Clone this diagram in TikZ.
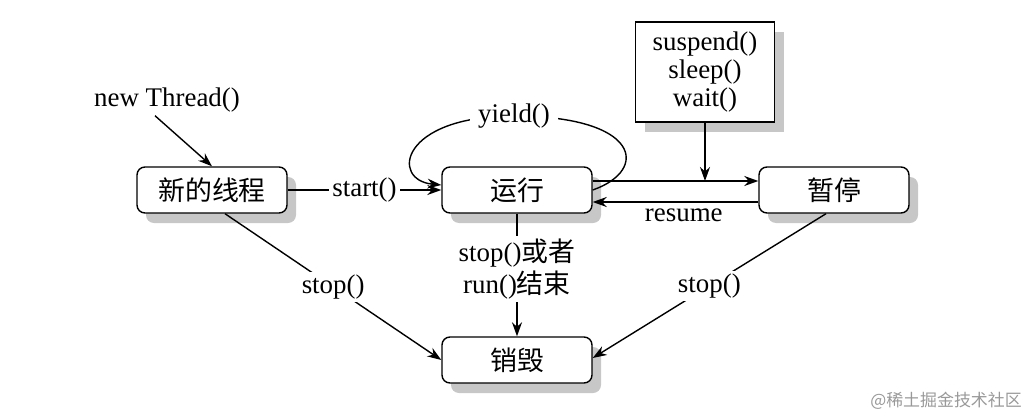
\documentclass[tikz,border=0pt]{standalone}
\usepackage{fontspec}
\setmainfont{Liberation Serif}
\newfontfamily\cjk{Noto Sans CJK SC}
\usetikzlibrary{arrows.meta,shadows}

\begin{document}
\begin{tikzpicture}[
  state/.style={draw,line width=1.4bp,rounded corners=8bp,fill=white,minimum width=150bp,minimum height=46bp,inner sep=0pt,font=\fontsize{27}{30}\selectfont\cjk,drop shadow={shadow xshift=9bp,shadow yshift=-10bp,fill=black!22,opacity=1}},
  callbox/.style={draw,line width=1.4bp,fill=white,minimum width=139bp,minimum height=100bp,align=center,font=\fontsize{27}{28}\selectfont,drop shadow={shadow xshift=9bp,shadow yshift=-10bp,fill=black!22,opacity=1}},
  lab/.style={fill=white,inner sep=3bp,font=\fontsize{27}{32}\selectfont,align=center},
  line/.style={line width=1.4bp,-{Stealth[length=14bp,width=10bp]}}
]
\useasboundingbox (0bp,0bp) rectangle (1033bp,-416bp);

\node (new) at (212bp,-190bp)[state] {新的线程};
\node (run) at (517bp,-190bp)[state] {运行};
\node (pause) at (834bp,-190bp)[state] {暂停};
\node (dead) at (517bp,-360bp)[state] {销毁};
\node (susp) at (705bp,-72bp)[callbox] {suspend()\\sleep()\\wait()};
\node (nt) at (167bp,-100bp)[font=\fontsize{27}{28}\selectfont] {new Thread()};
\node (mark) at (946bp,-401bp)[text=black!40,font=\fontsize{17}{18}\selectfont\cjk] {@稀土掘金技术社区};

\path (susp.south |- run.east) ++(0,9bp) coordinate (join);

\draw [line] ([xshift=-12bp]nt.south) -- (new.north);
\draw [line] (new) -- node[lab] {start()} (run);
\draw [line] (run.east) .. controls (650bp,-170bp) and (640bp,-116bp) .. (514bp,-116bp) node[lab,inner xsep=8bp] (yld) {yield()} .. controls (400bp,-116bp) and (390bp,-180bp) .. ([yshift=5bp]run.west);
\draw [line] ([yshift=9bp]run.east) -- ([yshift=9bp]pause.west);
\draw [line] (susp) -- (join);
\draw [line] ([yshift=-12bp]pause.west) -- node[pos=0.45,below=6bp,inner sep=0pt,font=\fontsize{27}{28}\selectfont] {resume} ([yshift=-12bp]run.east);
\draw [line] (run) -- node[lab,pos=0.45] {stop(){\cjk 或者}\\run(){\cjk 结束}} (dead);
\draw [line] ([xshift=13bp]new.south) -- node[lab] {stop()} (dead.west);
\draw [line] ([xshift=-8bp]pause.south) -- node[lab] {stop()} ([yshift=2bp]dead.east);
\end{tikzpicture}
\end{document}
